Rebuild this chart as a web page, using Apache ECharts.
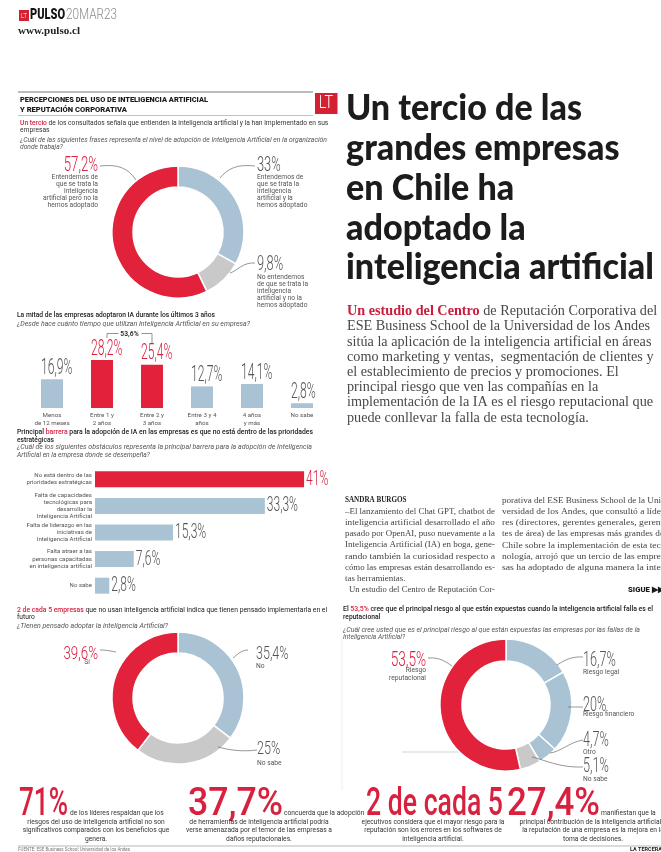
<!DOCTYPE html>
<html>
<head>
<meta charset="utf-8">
<script src="https://cdn.jsdelivr.net/npm/echarts@6/dist/echarts.min.js"></script>
<style>
  html, body { margin: 0; padding: 0; background: #fff; }
  #page { width: 661px; height: 852px; }
</style>
</head>
<body>
<div id="page"></div>
<script>
// ---- Survey data -------------------------------------------------------
const adoptionLabels = [
  'Entendemos de\nque se trata la\ninteligencia\nartificial y la\nhemos adoptado',
  'No entendemos\nde que se trata la\ninteligencia\nartificial y no la\nhemos adoptado',
  'Entendemos de\nque se trata la\ninteligencia\nartificial pero no la\nhemos adoptado'
];
const adoptionValues = [33, 9.8, 57.2];

const timeCategories = ['Menos\nde 12 meses', 'Entre 1 y\n2 años', 'Entre 2 y\n3 años', 'Entre 3 y 4\naños', '4 años\ny más', 'No sabe'];
const timeValues = [16.9, 28.2, 25.4, 12.7, 14.1, 2.8];
const timeHighlight = [1, 2];

const barrierCategories = [
  'No está dentro de las\nprioridades estratégicas',
  'Falta de capacidades\ntecnológicas para\ndesarrollar la\nInteligencia Artificial',
  'Falta de liderazgo en las\niniciativas de\nInteligencia Artificial',
  'Falta atraer a las\npersonas capacitadas\nen inteligencia artificial',
  'No sabe'
];
const barrierValues = [41, 33.3, 15.3, 7.6, 2.8];
const barrierHighlight = [0];

const planLabels = ['No', 'No sabe', 'Sí'];
const planValues = [35.4, 25, 39.6];

const riskLabels = ['Riesgo legal', 'Riesgo financiero', 'Otro', 'No sabe', 'Riesgo\nreputacional'];
const riskValues = [16.7, 20, 4.7, 5.1, 53.5];

const statFigures = ['71%', '37,7%', '2 de cada 5', '27,4%'];

// ---- Palette -------------------------------------------------------------
const RED = '#e2213a';
const RED_TEXT = '#d8203f';
const BLUE = '#a9c3d4';
const GRAY = '#c9c9c9';
const INK = '#3a3a3a';
const NUM = '#555555';

const fmt = v => String(v).replace('.', ',') + '%';

// ---- Text helpers ------------------------------------------------------
const measureCtx = document.createElement('canvas').getContext('2d');
function textWidth(str, font) {
  measureCtx.font = font;
  return Math.max(...str.split('\n').map(s => measureCtx.measureText(s).width));
}
function fontOf(o) {
  return `${o.italic ? 'italic ' : ''}${o.weight || 'normal'} ${o.size}px ${o.family || 'Roboto'}`;
}
function T(x, y, text, o) {
  o = Object.assign({ size: 6.6, color: INK, align: 'left', va: 'middle' }, o || {});
  const font = fontOf(o);
  let sx = o.sx || 1;
  if (o.fit) sx = o.fit / textWidth(o.plain || text, font);
  const style = { text, font, fill: o.color, textAlign: o.align, textVerticalAlign: o.va };
  if (o.lh) style.lineHeight = o.lh;
  if (o.rich) style.rich = o.rich;
  return { type: 'text', x, y, scaleX: sx, silent: true, z: o.z || 20, style };
}
function line(x1, y1, x2, y2, color, w, z) {
  return { type: 'line', silent: true, z: z || 20, shape: { x1, y1, x2, y2 }, style: { stroke: color || '#777', lineWidth: w || 0.7 } };
}
function curve(p, color) {
  return { type: 'bezierCurve', silent: true, z: 20,
    shape: { x1: p[0], y1: p[1], cpx1: p[2], cpy1: p[3], cpx2: p[4], cpy2: p[5], x2: p[6], y2: p[7] },
    style: { stroke: color || '#6a6a6a', lineWidth: 0.7, fill: null } };
}
const SMALL = 6.6;
const smallScale = 308 / textWidth('Un tercio de los consultados señala que entienden la inteligencia artificial y la han implementado en sus', fontOf({ size: SMALL }));
const s = (x, y, text, o) => T(x, y, text, Object.assign({ sx: smallScale }, o || {}));
const bigLight = (x, y, text, color, size, sx, align) =>
  T(x, y, text, { size, weight: 300, color, sx, align });

// ---- Chart ---------------------------------------------------------------
const chart = echarts.init(document.getElementById('page'), null, { renderer: 'canvas', width: 661, height: 852 });

const donutBase = {
  type: 'pie', startAngle: 90, clockwise: true, silent: true,
  label: { show: false }, labelLine: { show: false },
  itemStyle: { borderColor: '#ffffff', borderWidth: 1.5 },
  emphasis: { disabled: true }
};

chart.setOption({
  backgroundColor: '#ffffff',
  animation: false,
  grid: [
    { left: 27, top: 357, width: 300, height: 51 },
    { left: 95, top: 466, width: 255, height: 133 }
  ],
  xAxis: [
    { gridIndex: 0, type: 'category', data: timeCategories,
      axisLine: { show: false }, axisTick: { show: false },
      axisLabel: { interval: 0, fontFamily: 'Roboto', fontSize: 6.2, lineHeight: 7.6, color: '#555', margin: 4 } },
    { gridIndex: 1, type: 'value', min: 0, max: 50, show: false }
  ],
  yAxis: [
    { gridIndex: 0, type: 'value', min: 0, max: 30, show: false },
    { gridIndex: 1, type: 'category', inverse: true, data: barrierCategories,
      axisLine: { show: false }, axisTick: { show: false },
      axisLabel: { interval: 0, fontFamily: 'Roboto', fontSize: 6.1, lineHeight: 7.2, color: '#555', margin: 3 } }
  ],
  series: [
    Object.assign({}, donutBase, {
      center: [178, 232], radius: [45, 66],
      data: adoptionValues.map((v, i) => ({ value: v, name: adoptionLabels[i], itemStyle: { color: [BLUE, GRAY, RED][i] } }))
    }),
    { type: 'bar', xAxisIndex: 0, yAxisIndex: 0, barWidth: 22, silent: true,
      data: timeValues.map((v, i) => ({ value: v, itemStyle: { color: timeHighlight.includes(i) ? RED : BLUE } })) },
    { type: 'bar', xAxisIndex: 1, yAxisIndex: 1, barWidth: 16, silent: true,
      data: barrierValues.map((v, i) => ({ value: v, itemStyle: { color: barrierHighlight.includes(i) ? RED : BLUE } })) },
    Object.assign({}, donutBase, {
      center: [178, 698], radius: [45, 66],
      data: planValues.map((v, i) => ({ value: v, name: planLabels[i], itemStyle: { color: [BLUE, GRAY, RED][i] } }))
    }),
    Object.assign({}, donutBase, {
      center: [506, 705], radius: [44, 66],
      data: riskValues.map((v, i) => ({ value: v, name: riskLabels[i], itemStyle: { color: [BLUE, BLUE, BLUE, GRAY, RED][i] } }))
    })
  ]
});

// ---- Annotations, headings and page text --------------------------------
const g = [];

// Masthead
g.push({ type: 'rect', silent: true, z: 20, shape: { x: 19, y: 10, width: 10, height: 11 }, style: { fill: '#d42030' } });
g.push(T(24, 15.8, 'LT', { size: 8, weight: 300, color: '#fff', align: 'center', sx: 0.8 }));
g.push(T(30, 15.5, 'PULSO', { size: 14, weight: 900, color: '#151515', fit: 35 }));
g.push(T(66, 15.5, '20MAR23', { size: 14, weight: 300, color: '#8a8a8a', fit: 51 }));
g.push(T(18, 31, 'www.pulso.cl', { size: 11, weight: 'bold', family: 'Liberation Serif', color: '#222', fit: 62 }));

// Infographic heading
g.push(line(18, 92, 313, 92, '#555', 0.8));
g.push(T(20, 100.5, 'PERCEPCIONES DEL USO DE INTELIGENCIA ARTIFICIAL', { size: 7, weight: 900, color: '#1a1a1a', fit: 188 }));
g.push(T(20, 110, 'Y REPUTACIÓN CORPORATIVA', { size: 7, weight: 900, color: '#1a1a1a', fit: 107 }));
g.push(line(18, 115.5, 313, 115.5, '#999', 0.6));
g.push({ type: 'rect', silent: true, z: 20, shape: { x: 315, y: 93, width: 22.5, height: 21 }, style: { fill: '#d42030' } });
g.push(T(326, 103.8, 'LT', { size: 18, weight: 300, color: '#fff', align: 'center', sx: 0.8 }));

// Section 1: adoption level
g.push(T(20, 123, '{r|Un tercio} de los consultados señala que entienden la inteligencia artificial y la han implementado en sus',
  { size: SMALL, color: '#333', fit: 308, plain: 'Un tercio de los consultados señala que entienden la inteligencia artificial y la han implementado en sus',
    rich: { r: { fill: RED_TEXT, font: `500 ${SMALL}px Roboto` } } }));
g.push(s(20, 130.5, 'empresas', { color: '#333' }));
g.push(T(20, 140, '¿Cuál de las siguientes frases representa el nivel de adopción de Inteligencia Artificial en la organización',
  { size: SMALL, italic: true, color: '#555', fit: 307 }));
g.push(s(20, 147.5, 'donde trabaja?', { italic: true, color: '#555' }));

g.push(bigLight(98, 165.5, fmt(adoptionValues[2]), RED_TEXT, 20, 0.66, 'right'));
g.push(s(98, 173.4, adoptionLabels[2], { align: 'right', va: 'top', lh: 7.2, color: '#555' }));
g.push(bigLight(257, 165.5, fmt(adoptionValues[0]), NUM, 20, 0.64));
g.push(s(257, 173.4, adoptionLabels[0], { va: 'top', lh: 7.2, color: '#555' }));
g.push(bigLight(257, 264.5, fmt(adoptionValues[1]), NUM, 20, 0.64));
g.push(s(257, 273.3, adoptionLabels[1], { va: 'top', lh: 7.2, color: '#555' }));
[[100, 166, 118, 164, 128, 168, 136, 180],
 [255, 166, 238, 164, 228, 168, 220, 178],
 [255, 263, 243, 262, 237, 271, 230, 273]].forEach(p => g.push(curve(p)));

// Section 2: time using AI
g.push(T(17, 315.7, 'La mitad de las empresas adoptaron IA durante los últimos 3 años', { size: SMALL, weight: 500, color: '#1a1a1a', fit: 198 }));
g.push(T(17, 324, '¿Desde hace cuánto tiempo que utilizan Inteligencia Artificial en su empresa?', { size: SMALL, italic: true, color: '#555', fit: 233 }));

const tp = timeValues.map((v, i) => chart.convertToPixel({ seriesIndex: 1 }, [i, v]));
timeValues.forEach((v, i) => {
  const col = timeHighlight.includes(i) ? RED_TEXT : NUM;
  g.push(T(tp[i][0] - 11, tp[i][1] - 11, fmt(v), { size: 22, weight: 300, color: col, sx: 0.55 }));
});
// bracket joining the two highlighted bars
const joined = Math.round((timeValues[timeHighlight[0]] + timeValues[timeHighlight[1]]) * 10) / 10;
const bx1 = tp[timeHighlight[0]][0] + 5, bx2 = tp[timeHighlight[1]][0];
const bmid = (bx1 + bx2) / 2;
g.push(line(bx1, 333.5, bmid - 11, 333.5, '#666', 0.7));
g.push(line(bmid + 12, 333.5, bx2, 333.5, '#666', 0.7));
g.push(line(bx1, 333.5, bx1, 338, '#666', 0.7));
g.push(line(bx2, 333.5, bx2, 343, '#666', 0.7));
g.push(T(bmid, 334, fmt(joined), { size: 7.5, weight: 'bold', color: '#333', align: 'center', sx: 0.9 }));

// Section 3: barriers
g.push(T(17, 432.5, '{b|Principal }{r|barrera}{b| para la adopción de IA en las empresas es que no está dentro de las prioridades}',
  { size: SMALL, weight: 500, color: '#1a1a1a', fit: 296,
    plain: 'Principal barrera para la adopción de IA en las empresas es que no está dentro de las prioridades',
    rich: { b: { fill: '#1a1a1a', font: `500 ${SMALL}px Roboto` }, r: { fill: RED_TEXT, font: `500 ${SMALL}px Roboto` } } }));
g.push(s(17, 440, 'estratégicas', { weight: 500, color: '#1a1a1a' }));
g.push(T(17, 447, '¿Cuál de los siguientes obstáculos representa la principal barrera para la adopción de Inteligencia', { size: SMALL, italic: true, color: '#555', fit: 295 }));
g.push(s(17, 455, 'Artificial en la empresa donde se desempeña?', { italic: true, color: '#555' }));

const hp = barrierValues.map((v, i) => chart.convertToPixel({ seriesIndex: 2 }, [v, i]));
barrierValues.forEach((v, i) => {
  const col = barrierHighlight.includes(i) ? RED_TEXT : NUM;
  g.push(T(hp[i][0] + 2, hp[i][1] + 0.5, fmt(v), { size: 20, weight: 300, color: col, sx: 0.6 }));
});

// Section 4: plans to adopt
g.push(T(17, 610, '{r|2 de cada 5 empresas} que no usan inteligencia artificial indica que tienen pensado implementarla en el',
  { size: SMALL, color: '#1a1a1a', fit: 310,
    plain: '2 de cada 5 empresas que no usan inteligencia artificial indica que tienen pensado implementarla en el',
    rich: { r: { fill: RED_TEXT, font: `500 ${SMALL}px Roboto` } } }));
g.push(s(17, 617.5, 'futuro', { color: '#1a1a1a' }));
g.push(T(17, 626.5, '¿Tienen pensado adoptar la inteligencia Artificial?', { size: SMALL, italic: true, color: '#555', fit: 151 }));

g.push(bigLight(98, 654, fmt(planValues[2]), RED_TEXT, 19, 0.7, 'right'));
g.push(s(90, 662, planLabels[2], { align: 'right', color: '#555' }));
g.push(bigLight(256, 654, fmt(planValues[0]), NUM, 19, 0.66));
g.push(s(256, 666.5, planLabels[0], { color: '#555' }));
g.push(bigLight(257, 749.5, fmt(planValues[1]), NUM, 19, 0.66));
g.push(s(257, 763, planLabels[1], { color: '#555' }));
[[100, 650, 106, 650, 111, 651, 116, 652],
 [248, 650, 241, 650, 237, 655, 233, 658],
 [257, 750, 242, 752, 229, 750, 218, 747]].forEach(p => g.push(curve(p)));

// Section 5: main risk
g.push(line(342, 637, 342, 790, '#e2e2e2', 0.6, 1));
g.push(line(402, 752, 500, 752, '#bbbbbb', 0.6, 1));
g.push(T(343, 609.5, '{b|El }{r|53,5%}{b| cree que el principal riesgo al que están expuestas cuando la inteligencia artificial falla es el}',
  { size: SMALL, color: '#1a1a1a', fit: 307,
    plain: 'El 53,5% cree que el principal riesgo al que están expuestas cuando la inteligencia artificial falla es el',
    rich: { b: { fill: '#1a1a1a', font: `500 ${SMALL}px Roboto` }, r: { fill: RED_TEXT, font: `500 ${SMALL}px Roboto` } } }));
g.push(s(343, 617, 'reputacional', { weight: 500, color: '#1a1a1a' }));
g.push(T(343, 630, '¿Cuál cree usted que es el principal riesgo al que están expuestas las empresas por las fallas de la', { size: SMALL, italic: true, color: '#555', fit: 297 }));
g.push(s(343, 637.5, 'Inteligencia Artificial?', { italic: true, color: '#555' }));

g.push(bigLight(426, 660.5, fmt(riskValues[4]), RED_TEXT, 20, 0.68, 'right'));
g.push(s(426, 666.5, riskLabels[4], { align: 'right', va: 'top', lh: 8, color: '#555' }));
const riskLabelY = [660.5, 705.5, 740.5, 767];
const riskDescY = [672.5, 714, 752, 779];
[0, 1, 2, 3].forEach((k, j) => {
  g.push(bigLight(583, riskLabelY[j], fmt(riskValues[k]), NUM, 20, 0.63));
  g.push(s(583, riskDescY[j], riskLabels[k], { color: '#555' }));
});
[[428, 658, 440, 657, 446, 662, 452, 666],
 [583, 657, 570, 656, 562, 662, 557, 665],
 [583, 707, 576, 707, 572, 707, 568, 707],
 [583, 740, 570, 742, 560, 752, 550, 753],
 [583, 767, 560, 768, 545, 760, 532, 757]].forEach(p => g.push(curve(p)));

// Key figures row
const statSpec = [
  { x: 19, w: 49 }, { x: 188, w: 95 }, { x: 366, w: 137 }, { x: 507, w: 93 }
];
statFigures.forEach((t, i) => {
  g.push(T(statSpec[i].x, 805, t, { size: 39, weight: 500, color: RED_TEXT, fit: statSpec[i].w }));
});
g.push(s(70, 813.5, 'de los líderes respaldan que los', { color: '#333' }));
g.push(s(96, 830.5, 'riesgos del uso de inteligencia artificial no son\nsignificativos comparados con los beneficios que\ngenera.', { align: 'center', lh: 8.5, color: '#333' }));
g.push(s(284, 813.5, 'concuerda que la adopción', { color: '#333' }));
g.push(s(259, 830.5, 'de herramientas de inteligencia artificial podría\nverse amenazada por el temor de las empresas a\ndaños reputacionales.', { align: 'center', lh: 8.5, color: '#333' }));
g.push(s(433, 830.5, 'ejecutivos considera que el mayor riesgo para la\nreputación son los errores en los softwares de\ninteligencia artificial.', { align: 'center', lh: 8.5, color: '#333' }));
g.push(s(601, 813.5, 'manifiestan que la', { color: '#333' }));
g.push(s(593, 830.5, 'principal contribución de la inteligencia artificial a\nla reputación de una empresa es la mejora en la\ntoma de decisiones.', { align: 'center', lh: 8.5, color: '#333' }));

// Footer
g.push(line(18, 846, 661, 846, '#888', 0.6));
g.push(T(18, 850, 'FUENTE: ESE Business School Universidad de los Andes', { size: 4.5, color: '#777' }));
g.push(T(630, 850, 'LA TERCERA', { size: 5.5, weight: 'bold', color: '#222' }));

// Headline
const headline = ['Un tercio de las', 'grandes empresas', 'en Chile ha', 'adoptado la', 'inteligencia artificial'];
const headFont = fontOf({ size: 36, weight: 900, family: 'Lato' });
const headScale = 308 / textWidth(headline[4], headFont);
headline.forEach((t, i) => {
  g.push(T(346, 122 - 13.5 + i * 39.8, t, { size: 36, weight: 900, family: 'Lato', color: '#1c1c1c', sx: headScale }));
});

// Lead paragraph
const lead = [
  '{r|Un estudio del Centro} de Reputación Corporativa del',
  'ESE Business School de la Universidad de los Andes',
  'sitúa la aplicación de la inteligencia artificial en áreas',
  'como marketing y ventas,  segmentación de clientes y',
  'el establecimiento de precios y promociones. El',
  'principal riesgo que ven las compañías en la',
  'implementación de la IA es el riesgo reputacional que',
  'puede conllevar la falla de esta tecnología.'
];
const leadFont = fontOf({ size: 14, family: 'Liberation Serif' });
const leadScale = 303 / textWidth(lead[1], leadFont);
lead.forEach((t, i) => {
  g.push(T(347, 311.5 + i * 15.2, t, { size: 14, family: 'Liberation Serif', color: '#484848', sx: leadScale,
    rich: { r: { fill: '#c81e3a', font: 'bold 14px Liberation Serif' } } }));
});

// Article body
const col1 = [
  ['–El lanzamiento del Chat GPT, chatbot de', 150],
  ['inteligencia artificial desarrollado el año', 150],
  ['pasado por OpenAI, puso nuevamente a la', 150],
  ['Inteligencia Artificial (IA) en boga, gene-', 150],
  ['rando también la curiosidad respecto a', 150],
  ['cómo las empresas están desarrollando es-', 150],
  ['tas herramientas.', 0],
  ['Un estudio del Centro de Reputación Cor-', 146]
];
const col2 = [
  'porativa del ESE Business School de la Uni-',
  'versidad de los Andes, que consultó a líde-',
  'res (directores, gerentes generales, geren-',
  'tes de área) de las empresas más grandes de',
  'Chile sobre la implementación de esta tec-',
  'nología, arrojó que un tercio de las empre-',
  'sas ha adoptado de alguna manera la inte-'
];
const bodyFont = fontOf({ size: 9, family: 'Liberation Serif' });
const bodyScale = 150 / textWidth(col1[0][0], bodyFont);
g.push(T(345, 500.5, 'SANDRA BURGOS', { size: 7.5, weight: 'bold', family: 'Liberation Serif', color: '#222', sx: 0.95 }));
col1.forEach(([t, w], i) => {
  const x = i === 7 ? 349 : 345;
  const opts = { size: 9, family: 'Liberation Serif', color: '#444' };
  if (w) opts.fit = w; else opts.sx = bodyScale;
  g.push(T(x, 511.5 + i * 11.2, t, opts));
});
col2.forEach((t, i) => {
  g.push(T(502, 500.5 + i * 11.2, t, { size: 9, family: 'Liberation Serif', color: '#444', fit: 162 }));
});
g.push(T(628, 590.5, 'SIGUE ▶▶', { size: 7.5, weight: 900, color: '#1a1a1a', fit: 36 }));

chart.setOption({ graphic: { elements: g } });
</script>
</body>
</html>
